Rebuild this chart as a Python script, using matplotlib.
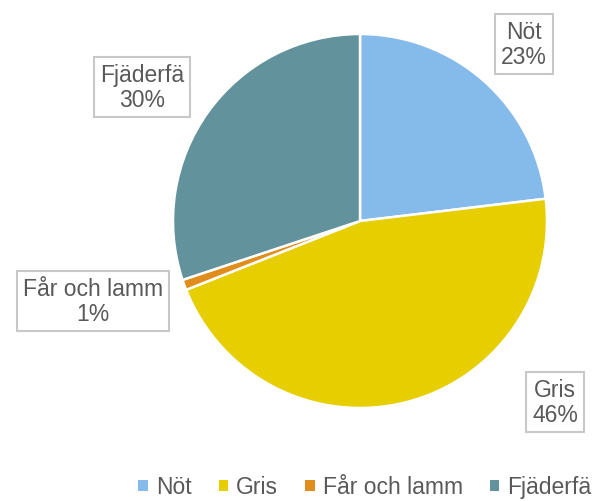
import numpy as np
import matplotlib.pyplot as plt
from matplotlib.patches import Patch

plt.rcParams['font.family'] = ['Liberation Sans', 'DejaVu Sans']

# data
categories = ['Nöt', 'Gris', 'Får och lamm', 'Fjäderfä']
values = [23.1, 45.9, 0.9, 30.1]
pct_labels = ['23%', '46%', '1%', '30%']
colors = ['#85BBEA', '#E6CE00', '#E08D1C', '#62939C']

W, H = 594, 502
fig = plt.figure(figsize=(W / 100, H / 100), dpi=100)

# pie centre and radius in pixels
cx, cy, r = 360, 222, 187
ax = fig.add_axes([(cx - r) / W, (H - cy - r) / H, 2 * r / W, 2 * r / H])
ax.pie(values, colors=colors, startangle=90, counterclock=False, radius=1,
       wedgeprops=dict(edgecolor='white', linewidth=1.8))
ax.set_xlim(-1, 1)
ax.set_ylim(-1, 1)
ax.set_aspect('equal')
ax.axis('off')

# label box positions (pixels)
label_pos = [(524, 45), (555, 403), (93, 302), (142, 88)]
for cat, pct, (px, py) in zip(categories, pct_labels, label_pos):
    fig.text(px / W, 1 - py / H, cat + '\n' + pct, ha='center', va='center',
             fontsize=16.5, color='#595959', linespacing=1.1,
             bbox=dict(boxstyle='square,pad=0.28', facecolor='white',
                       edgecolor='#C8C8C8', linewidth=1.5))

handles = [Patch(facecolor=c, edgecolor='none') for c in colors]
fig.legend(handles, categories, loc='center', bbox_to_anchor=(365 / W, 1 - 488 / H),
           ncol=4, frameon=False, fontsize=16.5, labelcolor='#595959',
           handlelength=0.4, handleheight=0.4, handletextpad=0.35, columnspacing=1.2,
           borderpad=0)

fig.savefig('out.png', dpi=100)
